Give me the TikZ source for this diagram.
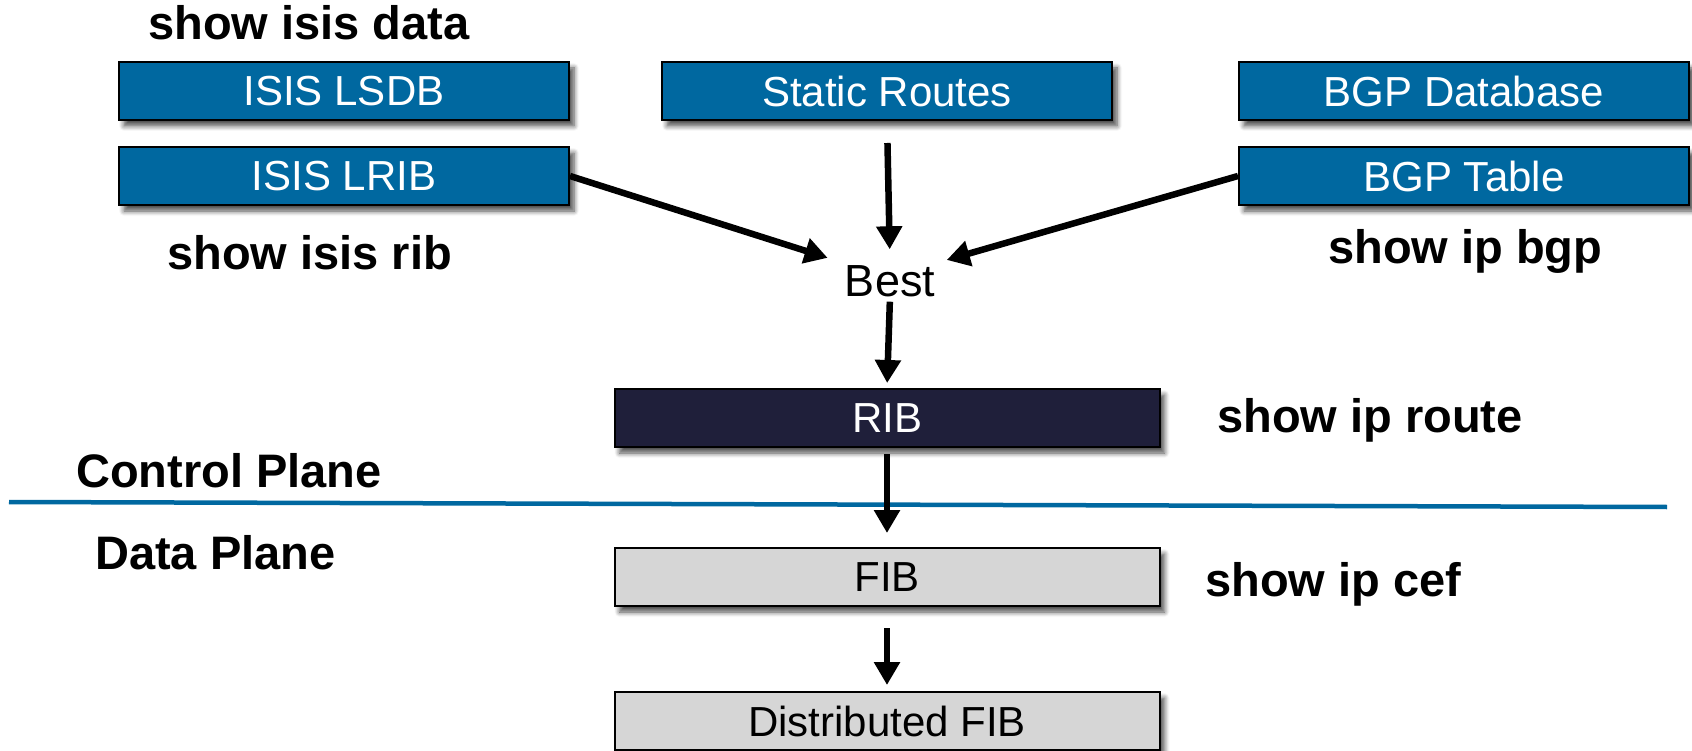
\documentclass[tikz,border=0pt]{standalone}
\usepackage{fontspec}
\setmainfont{Liberation Sans}
\usetikzlibrary{arrows.meta,shadows.blur}
\definecolor{ciscoblue}{RGB}{0,104,160}
\definecolor{ribnavy}{RGB}{31,31,58}
\definecolor{fibgray}{RGB}{214,214,214}
\tikzset{
  box/.style={draw=black, line width=2pt, inner sep=0pt, minimum height=58pt,
    font=\fontsize{42}{50}\selectfont,
    blur shadow={shadow xshift=5pt, shadow yshift=-6pt, shadow blur steps=6, shadow blur radius=5pt, shadow opacity=70}},
  bluebox/.style={box, fill=ciscoblue, text=white, minimum width=450pt},
  ribbox/.style={box, fill=ribnavy, text=white, minimum width=545pt},
  graybox/.style={box, fill=fibgray, text=black, minimum width=545pt},
  cmd/.style={anchor=base west, inner sep=0pt, font=\fontsize{47}{56}\selectfont\bfseries},
  flow/.style={line width=6.5pt, -{Triangle[length=23pt,width=25pt]}},
  planeline/.style={draw=ciscoblue, line width=4.5pt}
}
\begin{document}
\begin{tikzpicture}[x=1pt,y=-1pt]
\useasboundingbox (0,0) rectangle (1692,751);

% routing information sources
\node[bluebox] (lsdb)   at (344,91)   {ISIS LSDB};
\node[bluebox] (lrib)   at (344,176)  {ISIS LRIB};
\node[bluebox] (static) at (887,91)   {Static Routes};
\node[bluebox] (bgpdb)  at (1464,91)  {BGP Database};
\node[bluebox] (bgptab) at (1464,176) {BGP Table};

% best path selection
\node[inner sep=0pt, text height=33pt, text depth=0pt, font=\fontsize{45}{54}\selectfont] (best) at (890,280) {Best};

% tables
\node[ribbox]  (rib)  at (887,418) {RIB};
\node[graybox] (fib)  at (887,577) {FIB};
\node[graybox] (dfib) at (887,721) {Distributed FIB};

% commands
\node[cmd] (cmdisisdata) at (148,40)  {show isis data};
\node[cmd] (cmdisisrib)  at (167,270) {show isis rib};
\node[cmd] (cmdbgp)      at (1328,264) {show ip bgp};
\node[cmd] (cmdroute)    at (1217,432) {show ip route};
\node[cmd] (cmdcef)      at (1205,596) {show ip cef};

% control / data plane boundary
\coordinate (planeL) at (9,502);
\coordinate (planeR) at (1667,507);
\draw[planeline] (planeL) -- (planeR);
\node[cmd] (ctrl) at (76,487) {Control Plane};
\node[cmd] (data) at (95,569) {Data Plane};

% flow of routes
\draw[flow, shorten <=22pt, shorten >=14pt] (static.south) -- (best.north);
\draw[flow, shorten >=18pt] (lrib.east) -- (best.north west);
\draw[flow, shorten >=12pt] (bgptab.west) -- (best.north east);
\draw[flow, shorten <=5pt, shorten >=5pt] (best.south) -- (rib.north);
\draw[flow, shorten <=6pt, shorten >=14pt] (rib.south) -- (fib.north);
\draw[flow, shorten <=21pt, shorten >=6pt] (fib.south) -- (dfib.north);
\end{tikzpicture}
\end{document}
